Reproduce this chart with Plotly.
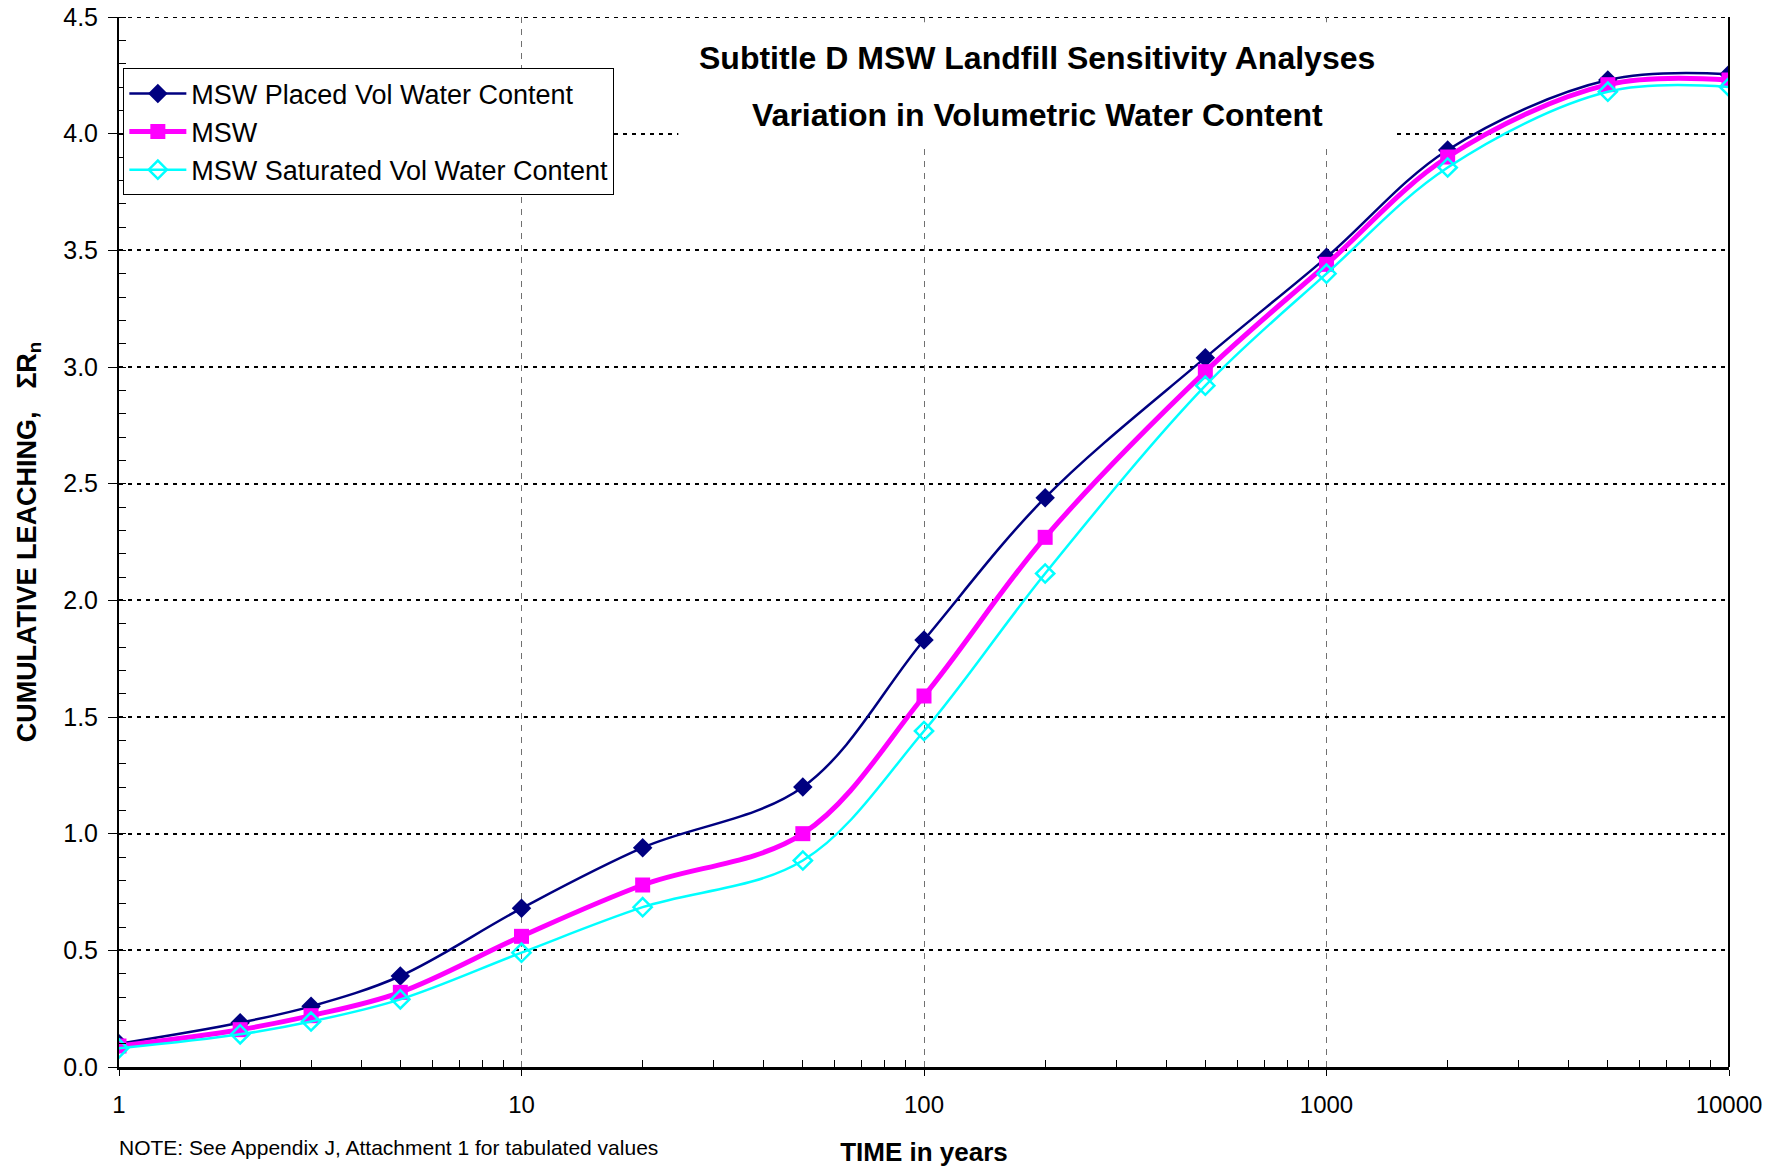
import plotly.graph_objects as go

years = [1, 2, 3, 5, 10, 20, 50, 100, 200, 500, 1000, 2000, 5000, 10000]
placed = [0.10, 0.19, 0.26, 0.39, 0.68, 0.94, 1.20, 1.83, 2.44, 3.04, 3.47, 3.93, 4.23, 4.255]
msw = [0.09, 0.16, 0.22, 0.32, 0.56, 0.78, 1.00, 1.59, 2.27, 2.98, 3.44, 3.90, 4.21, 4.23]
saturated = [0.08, 0.14, 0.195, 0.29, 0.49, 0.685, 0.885, 1.44, 2.115, 2.92, 3.40, 3.855, 4.18, 4.20]

y_ticks = [0.0, 0.5, 1.0, 1.5, 2.0, 2.5, 3.0, 3.5, 4.0, 4.5]
x_ticks = [1, 10, 100, 1000, 10000]
x_minor = [m * d for d in (1, 10, 100, 1000) for m in range(2, 10)]

FONT = "Liberation Sans, Arial, sans-serif"

fig = go.Figure()
fig.add_trace(go.Scatter(
    x=years, y=placed, name="MSW Placed Vol Water Content",
    mode="lines+markers",
    line=dict(color="#000080", width=2.5, shape="spline", smoothing=1),
    marker=dict(symbol="diamond", size=15, color="#000080"),
))
fig.add_trace(go.Scatter(
    x=years, y=msw, name="MSW",
    mode="lines+markers",
    line=dict(color="#FF00FF", width=5, shape="spline", smoothing=1),
    marker=dict(symbol="square", size=15, color="#FF00FF"),
))
fig.add_trace(go.Scatter(
    x=years, y=saturated, name="MSW Saturated Vol Water Content",
    mode="lines+markers",
    line=dict(color="#00FFFF", width=2.5, shape="spline", smoothing=1),
    marker=dict(symbol="diamond-open", size=14, color="#00FFFF", line=dict(width=2.5, color="#00FFFF")),
))

# top dotted gridline at 4.5
fig.add_shape(type="line", xref="paper", yref="y", x0=0, x1=1, y0=4.5, y1=4.5,
              line=dict(color="black", width=2, dash="4px,5px"), layer="below")

# white box behind the title (hides gridlines there)
fig.add_shape(type="rect", xref="paper", yref="paper",
              x0=0.3474, x1=0.7915, y0=0.88, y1=0.995,
              fillcolor="white", line=dict(width=0), layer="above")

fig.add_annotation(text="<b>Subtitle D MSW Landfill Sensitivity Analyses</b>",
                   xref="paper", yref="paper", x=0.5704, y=0.961,
                   xanchor="center", yanchor="middle",
                   showarrow=False, font=dict(family=FONT, size=32, color="black"))
fig.add_annotation(text="<b>Variation in Volumetric Water Content</b>",
                   xref="paper", yref="paper", x=0.5704, y=0.9067,
                   xanchor="center", yanchor="middle",
                   showarrow=False, font=dict(family=FONT, size=32, color="black"))
fig.add_annotation(text="NOTE: See Appendix J, Attachment 1 for tabulated values",
                   xref="paper", yref="paper", x=-0.0015, y=-0.077,
                   xanchor="left", yanchor="middle",
                   showarrow=False, font=dict(family=FONT, size=21, color="black"))

fig.update_xaxes(
    type="log", range=[0, 4],
    tickmode="array", tickvals=x_ticks, ticktext=[str(v) for v in x_ticks],
    tickfont=dict(family=FONT, size=24, color="black"),
    ticks="outside", ticklen=6, tickcolor="black",
    ticklabelstandoff=8,
    showline=True, linecolor="black", linewidth=3,
    showgrid=True, gridcolor="#707070", gridwidth=1, griddash="6px,6px",
    minor=dict(tickmode="array", tickvals=x_minor, ticks="inside", ticklen=7,
               tickcolor="black", showgrid=False),
    zeroline=False, automargin=False,
    title=dict(text="<b>TIME in years</b>", font=dict(family=FONT, size=26, color="black"), standoff=27),
)
fig.update_yaxes(
    range=[0, 4.5],
    tickmode="array", tickvals=y_ticks, ticktext=[f"{v:.1f}" for v in y_ticks],
    tickfont=dict(family=FONT, size=25, color="black"),
    ticks="outside", ticklen=9, tickcolor="black",
    ticklabelstandoff=5,
    showline=True, linecolor="black", linewidth=2, mirror=False,
    showgrid=True, gridcolor="black", gridwidth=2, griddash="4px,5px",
    minor=dict(dtick=0.1, ticks="inside", ticklen=7, tickcolor="black", showgrid=False),
    zeroline=False, automargin=False,
    title=dict(text="<b>CUMULATIVE LEACHING,   ΣR<sub>n</sub></b>",
               font=dict(family=FONT, size=27, color="black"), standoff=19),
)

# right border
fig.add_shape(type="line", xref="paper", yref="paper", x0=1, x1=1, y0=0, y1=1,
              line=dict(color="black", width=2))

fig.update_layout(
    width=1788, height=1169,
    margin=dict(l=119, r=59, t=17, b=102, autoexpand=False),
    plot_bgcolor="white", paper_bgcolor="white",
    font=dict(family=FONT, color="black"),
    showlegend=True,
    legend=dict(x=0.0027, y=0.951, xanchor="left", yanchor="top",
                bgcolor="white", bordercolor="black", borderwidth=1,
                font=dict(family=FONT, size=27, color="black"),
                itemwidth=57, tracegroupgap=0),
)

fig.write_html("out.html")
